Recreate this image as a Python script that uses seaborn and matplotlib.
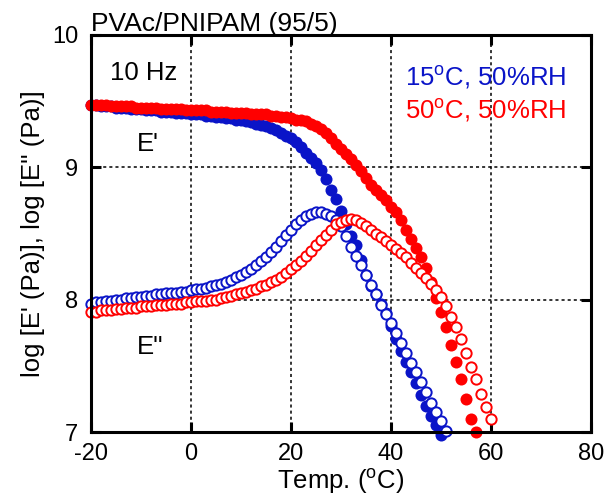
import numpy as np
import pandas as pd
import matplotlib
matplotlib.use("Agg")
import matplotlib.pyplot as plt
import seaborn as sns

# Temperatures (deg C) for each sweep
temp_15 = [-20, -19, -18, -17, -16, -15, -14, -13, -12, -11, -10, -9, -8, -7, -6, -5, -4, -3, -2, -1,
           0, 1, 2, 3, 4, 5, 6, 7, 8, 9, 10, 11, 12, 13, 14, 15, 16, 17, 18, 19,
           20, 21, 22, 23, 24, 25, 26, 27, 28, 29, 30, 31, 32, 33, 34, 35, 36, 37, 38, 39,
           40, 41, 42, 43, 44, 45, 46, 47, 48, 49, 50]
temp_50 = [-20, -19, -18, -17, -16, -15, -14, -13, -12, -11, -10, -9, -8, -7, -6, -5, -4, -3, -2, -1,
           0, 1, 2, 3, 4, 5, 6, 7, 8, 9, 10, 11, 12, 13, 14, 15, 16, 17, 18, 19,
           20, 21, 22, 23, 24, 25, 26, 27, 28, 29, 30, 31, 32, 33, 34, 35, 36, 37, 38, 39,
           40, 41, 42, 43, 44, 45, 46, 47, 48, 49, 50, 51, 52, 53, 54, 55, 56, 57]
temp_50_loss = temp_50 + [58, 59, 60]
temp_15_loss = temp_15 + [51]

# log E' at 15 C, 50%RH
storage_15 = [9.47, 9.47, 9.46, 9.46, 9.46, 9.45, 9.45, 9.45, 9.44, 9.44, 9.44, 9.43, 9.43, 9.43, 9.42, 9.42, 9.42, 9.41, 9.41, 9.41,
              9.40, 9.40, 9.40, 9.39, 9.39, 9.38, 9.38, 9.37, 9.37, 9.36, 9.36, 9.35, 9.34, 9.33, 9.32, 9.31, 9.30, 9.28, 9.26, 9.24,
              9.22, 9.19, 9.15, 9.11, 9.07, 9.03, 8.98, 8.91, 8.83, 8.76, 8.67, 8.57, 8.48, 8.41, 8.30, 8.19, 8.10, 8.04, 7.97, 7.90,
              7.80, 7.70, 7.61, 7.53, 7.45, 7.37, 7.28, 7.20, 7.12, 7.05, 6.98]
# log E'' at 15 C, 50%RH
loss_15 = [7.97, 7.98, 7.98, 7.99, 7.99, 8.00, 8.00, 8.01, 8.01, 8.02, 8.02, 8.03, 8.03, 8.04, 8.04, 8.05, 8.05, 8.05, 8.06, 8.06,
           8.07, 8.08, 8.08, 8.09, 8.10, 8.11, 8.12, 8.13, 8.15, 8.17, 8.19, 8.21, 8.23, 8.26, 8.29, 8.32, 8.36, 8.40, 8.44, 8.49,
           8.53, 8.57, 8.60, 8.63, 8.65, 8.66, 8.66, 8.65, 8.63, 8.60, 8.56, 8.48, 8.40, 8.33, 8.26, 8.19, 8.11, 8.04, 7.96, 7.89,
           7.82, 7.75, 7.67, 7.60, 7.52, 7.45, 7.38, 7.30, 7.22, 7.15, 7.08, 7.01]
# log E' at 50 C, 50%RH
storage_50 = [9.47, 9.47, 9.47, 9.47, 9.46, 9.46, 9.46, 9.46, 9.46, 9.45, 9.45, 9.45, 9.45, 9.45, 9.44, 9.44, 9.44, 9.44, 9.44, 9.43,
              9.43, 9.43, 9.43, 9.43, 9.42, 9.42, 9.42, 9.42, 9.41, 9.41, 9.41, 9.41, 9.40, 9.40, 9.40, 9.40, 9.39, 9.39, 9.38, 9.38,
              9.37, 9.36, 9.36, 9.35, 9.33, 9.31, 9.29, 9.26, 9.22, 9.18, 9.14, 9.10, 9.06, 9.02, 8.97, 8.92, 8.87, 8.83, 8.79, 8.75,
              8.70, 8.66, 8.60, 8.53, 8.46, 8.39, 8.32, 8.24, 8.13, 8.01, 7.91, 7.79, 7.66, 7.53, 7.40, 7.25, 7.10, 7.00]
# log E'' at 50 C, 50%RH
loss_50 = [7.91, 7.91, 7.92, 7.92, 7.92, 7.93, 7.93, 7.94, 7.94, 7.94, 7.95, 7.95, 7.95, 7.96, 7.96, 7.96, 7.97, 7.97, 7.97, 7.98,
           7.98, 7.99, 7.99, 7.99, 8.00, 8.00, 8.01, 8.02, 8.03, 8.04, 8.05, 8.06, 8.07, 8.08, 8.10, 8.11, 8.13, 8.15, 8.17, 8.20,
           8.23, 8.26, 8.29, 8.33, 8.37, 8.41, 8.45, 8.49, 8.53, 8.57, 8.59, 8.60, 8.61, 8.60, 8.58, 8.56, 8.53, 8.50, 8.47, 8.44,
           8.41, 8.38, 8.35, 8.32, 8.28, 8.24, 8.20, 8.16, 8.12, 8.07, 8.02, 7.95, 7.87, 7.79, 7.70, 7.60, 7.49, 7.40, 7.29, 7.19,
           7.10]

blue = "#0a14c8"
red = "#ff0000"

plt.rcParams['font.family'] = ['Liberation Sans', 'DejaVu Sans']
plt.rcParams['mathtext.fontset'] = 'custom'
plt.rcParams['mathtext.rm'] = 'Liberation Sans'
plt.rcParams['axes.unicode_minus'] = False

fig = plt.figure(figsize=(6.05, 4.98), dpi=100)
ax = fig.add_axes([91 / 605, 66 / 498, 500 / 605, 397 / 498])

# filled = E', open = E''
sns.scatterplot(x=temp_15, y=storage_15, ax=ax, color=blue, s=75, linewidth=0, clip_on=False, zorder=3)
sns.scatterplot(x=temp_50, y=storage_50, ax=ax, color=red, s=75, linewidth=0, clip_on=False, zorder=4)
sns.scatterplot(x=temp_15_loss, y=loss_15, ax=ax, facecolor="white", edgecolor=blue, s=55, linewidth=1.4,
                clip_on=False, zorder=5)
sns.scatterplot(x=temp_50_loss, y=loss_50, ax=ax, facecolor="white", edgecolor=red, s=55, linewidth=1.4,
                clip_on=False, zorder=6)

ax.set_xlim(-20, 80)
ax.set_ylim(7, 10)
ax.set_xticks([-20, 0, 20, 40, 60, 80])
ax.set_yticks([7, 8, 9, 10])
for xv in [0, 20, 40, 60]:
    ax.axvline(xv, color="black", linestyle=(0, (2, 2)), linewidth=1.1, zorder=1)
for yv in [8, 9]:
    ax.axhline(yv, color="black", linestyle=(0, (2, 2)), linewidth=1.1, zorder=1)

for sp in ax.spines.values():
    sp.set_linewidth(2.2)
    sp.set_zorder(7)
ax.tick_params(direction="in", length=7, width=2.2, top=True, right=True, labelsize=17)
ax.tick_params(axis="x", pad=8)
ax.tick_params(axis="y", pad=9)

ax.set_xlabel(r"Temp. ($^{\mathrm{o}}$C)", fontsize=18.5, labelpad=1)
ax.set_ylabel("log [E' (Pa)], log [E'' (Pa)]", fontsize=18.5, labelpad=5)
ax.set_title("PVAc/PNIPAM (95/5)", loc="left", fontsize=19, pad=3)

ax.text(-16.2, 9.71, "10 Hz", fontsize=18.5, va="center", ha="left")
ax.text(-10.8, 9.18, "E'", fontsize=18.5, va="center", ha="left")
ax.text(-10.8, 7.64, "E''", fontsize=18.5, va="center", ha="left")
ax.text(42.8, 9.68, r"15$^{\mathrm{o}}$C, 50%RH", fontsize=18.5, va="center", ha="left", color=blue)
ax.text(42.8, 9.43, r"50$^{\mathrm{o}}$C, 50%RH", fontsize=18.5, va="center", ha="left", color=red)

fig.savefig("out.png", dpi=100)
